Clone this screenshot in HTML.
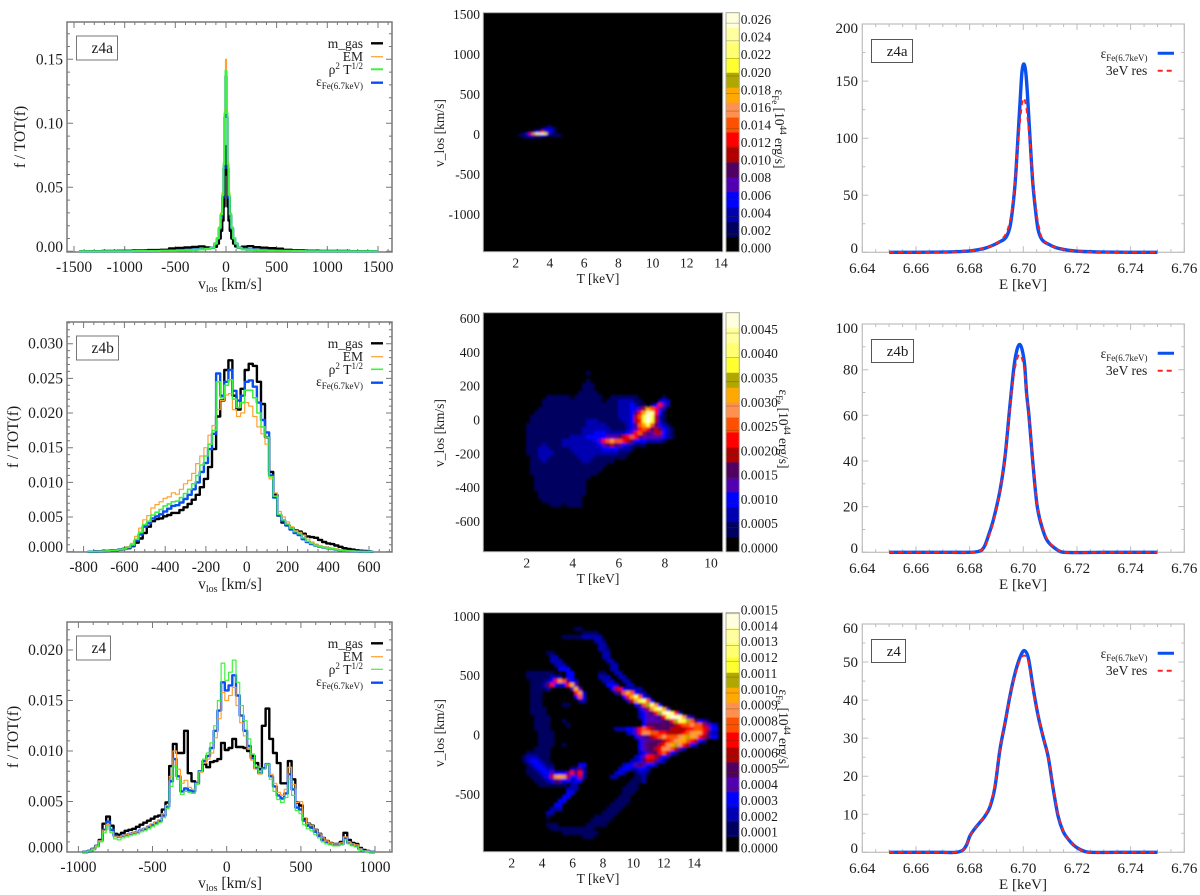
<!DOCTYPE html>
<html>
<head>
<meta charset="utf-8">
<title>Gas velocity distributions, T–v maps and Fe line profiles</title>
<style>
html,body{margin:0;padding:0;background:#fff;width:1200px;height:895px;overflow:hidden}
svg{display:block;font-family:"Liberation Serif","DejaVu Serif",serif;fill:#1c1c1c}
</style>
</head>
<body>
<svg id="figure" xmlns="http://www.w3.org/2000/svg" width="1200" height="895" viewBox="0 0 1200 895">
<defs>
<filter id="soft" filterUnits="userSpaceOnUse" x="480" y="0" width="250" height="895"><feGaussianBlur stdDeviation="1.05"/></filter>
</defs>
</svg>
<script>
// ---------- velocity histograms: z4a ----------
const z4aVel=[-1450,-1300,-1150,-1000,-850,-700,-600,-525,-450,-375,-300,-240,-180,-130,-100,-80,-60,-45,-30,-20,-10,0,10,20,30,45,60,80,100,130,180,240,300,375,450,525,600,700,850,1000,1150,1300,1500];
const z4aMass=[0,.0001,.0002,.0004,.0006,.0009,.0012,.0022,.0026,.003,.0034,.0038,.003,.0028,.0035,.006,.01,.016,.024,.035,.06,.082,.06,.035,.024,.016,.01,.006,.0038,.0028,.0036,.004,.0032,.0028,.0024,.002,.0012,.0008,.0005,.0003,.0002,.0001,0];
const z4aEM=[0,0,.0001,.0001,.0002,.0002,.0004,.0005,.0007,.0009,.0012,.0014,.0018,.0028,.0062,.0105,.019,.03,.046,.07,.11,.15,.11,.07,.046,.03,.019,.0105,.0062,.0028,.0015,.0012,.0009,.0007,.0005,.0004,.0003,.0002,.0001,.0001,0,0,0];
const z4aRho=[0,0,.0001,.0001,.0002,.0002,.0004,.0005,.0007,.0009,.0012,.0014,.0018,.0028,.006,.0102,.0185,.029,.044,.068,.108,.141,.108,.068,.044,.029,.0185,.0102,.006,.0028,.0015,.0012,.0009,.0007,.0005,.0004,.0003,.0002,.0001,.0001,0,0,0];
const z4aFe=[0,0,.0001,.0001,.0002,.0003,.0005,.0007,.0009,.0011,.0014,.0016,.002,.0028,.006,.01,.018,.028,.042,.065,.105,.137,.105,.065,.042,.028,.018,.01,.006,.0028,.0018,.0014,.0011,.0009,.0007,.0005,.0004,.0003,.0002,.0001,.0001,0,0];
const z4aXTicks=[-1500,-1000,-500,0,500,1000,1500];
const z4aYTicks=[0,.05,.10,.15];
const z4aYLabels=['0.00','0.05','0.10','0.15'];
// ---------- velocity histograms: z4b ----------
const z4bVel=[-780,-760,-740,-720,-700,-680,-660,-640,-620,-600,-580,-560,-540,-520,-500,-480,-460,-440,-420,-400,-380,-360,-340,-320,-300,-280,-260,-240,-220,-200,-180,-160,-140,-120,-100,-80,-60,-40,-20,0,20,40,60,80,100,120,140,160,180,200,220,240,260,280,300,320,340,360,380,400,420,440,460,480,500,520,540,560,580,600,620];
const z4bMass=[0,0,.00003,.00005,.0001,.00012,.00018,.00022,.0003,.0004,.0005,.0008,.0013,.0019,.0027,.0036,.0044,.0047,.0048,.0051,.0053,.0056,.0056,.006,.0064,.0069,.0075,.0082,.0093,.0105,.0122,.0148,.0195,.0218,.0262,.0276,.0225,.0205,.0235,.0262,.0271,.0268,.0245,.0213,.0165,.0115,.0082,.0052,.0042,.0038,.0034,.0031,.0029,.0026,.0022,.0021,.002,.0017,.0014,.0012,.0011,.0009,.0007,.0005,.0004,.0003,.0002,.00015,.0001,.00005,0];
const z4bEM=[0,0,.00003,.00005,.0001,.00012,.00018,.00022,.0003,.0004,.0007,.0012,.0022,.0034,.0046,.0052,.0063,.0068,.0072,.0077,.0079,.0085,.0083,.009,.0098,.0103,.0113,.0127,.0138,.015,.0168,.0182,.0205,.0218,.0226,.0228,.0205,.0195,.02,.0215,.021,.0195,.018,.017,.0155,.0105,.0085,.0058,.005,.0043,.0036,.0031,.0028,.0024,.0018,.0014,.0011,.0009,.0007,.0006,.0005,.0004,.0003,.0002,.00015,.0001,.00008,.00005,.00003,.00002,0];
const z4bRho=[0,0,.00003,.00005,.0001,.00012,.00018,.00022,.0003,.0004,.0006,.001,.0018,.0028,.0039,.0044,.0053,.0057,.0061,.0066,.0069,.0072,.0073,.0078,.0084,.009,.0098,.011,.0125,.0138,.0155,.0175,.0245,.0222,.024,.0248,.022,.0208,.0215,.0233,.0233,.0222,.02,.018,.0165,.0108,.008,.0054,.0046,.004,.0034,.0029,.0026,.002,.0015,.0012,.0009,.0007,.0006,.0005,.0004,.0003,.0002,.00015,.0001,.00008,.00005,.00003,.00002,.00001,0];
const z4bFe=[0,0,.00003,.00005,.0001,.00012,.00018,.00022,.0003,.0004,.0006,.0009,.0016,.0025,.0036,.0041,.0048,.0051,.0054,.0058,.0062,.0066,.0067,.0071,.0076,.0082,.009,.01,.0115,.0128,.0148,.017,.0257,.0225,.0245,.0262,.0232,.0218,.0225,.0245,.0247,.0238,.0215,.019,.0172,.011,.0078,.0052,.0044,.0038,.0032,.0027,.0024,.0018,.0014,.0011,.0009,.0007,.0006,.0005,.0004,.0003,.0002,.00015,.0001,.00008,.00005,.00003,.00002,.00001,0];
const z4bXTicks=[-800,-600,-400,-200,0,200,400,600];
const z4bYTicks=[0,.005,.010,.015,.020,.025,.030];
const z4bYLabels=['0.000','0.005','0.010','0.015','0.020','0.025','0.030'];
// ---------- velocity histograms: z4 ----------
const z4Vel=[-975,-950,-925,-900,-875,-850,-825,-800,-775,-750,-725,-700,-675,-650,-625,-600,-575,-550,-525,-500,-475,-450,-425,-400,-375,-350,-325,-300,-275,-250,-225,-200,-175,-150,-125,-100,-75,-50,-25,0,25,50,75,100,125,150,175,200,225,250,275,300,325,350,375,400,425,450,475,500,525,550,575,600,625,650,675,700,725,750,775,800,825,850,875,900,925,950,975,1000];
const z4Mass=[0,0,.0001,.0003,.0006,.0012,.0028,.0035,.0026,.0018,.0017,.0019,.0021,.0022,.0023,.0025,.0027,.0029,.0031,.0033,.0035,.0036,.0042,.0049,.0085,.0107,.0098,.0098,.012,.0078,.007,.0068,.008,.0087,.0084,.0089,.009,.0092,.0108,.0101,.0103,.0112,.0104,.0104,.0103,.01,.0095,.0088,.0082,.0125,.0142,.0112,.0098,.0088,.0068,.0068,.009,.0072,.0049,.0046,.0033,.0028,.0026,.0022,.0018,.0014,.0011,.0009,.0008,.0008,.001,.0019,.0012,.0009,.0008,.0004,.0002,.0001,0,0];
const z4EM=[0,0,.0001,.0003,.0006,.0011,.0021,.0027,.002,.0015,.0015,.0016,.0017,.0018,.0019,.002,.0022,.0024,.0026,.0028,.003,.0032,.0038,.0046,.0075,.01,.0082,.0068,.0071,.0064,.0062,.0068,.0079,.0088,.0092,.0098,.0113,.0132,.0158,.015,.0155,.0163,.0145,.0128,.0115,.0102,.0091,.0082,.0077,.0082,.0087,.0077,.0068,.0059,.0056,.0062,.0084,.0067,.0049,.005,.0034,.0028,.0026,.0022,.0018,.0014,.0011,.0009,.0008,.0008,.0009,.0015,.001,.0008,.0007,.0003,.0001,.0001,0,0];
const z4Rho=[0,0,.0001,.0002,.0005,.001,.0019,.0026,.0019,.0013,.0012,.0014,.0015,.0016,.0017,.0018,.002,.0021,.0023,.0025,.0027,.0029,.0034,.0043,.0065,.0085,.0072,.0057,.006,.0059,.0058,.0067,.008,.0092,.0098,.0108,.0125,.015,.0187,.017,.0178,.019,.0168,.0145,.013,.0112,.0097,.0085,.0078,.0082,.0087,.0072,.006,.0052,.0049,.0054,.0072,.0056,.0041,.0038,.0027,.0023,.0021,.0017,.0014,.001,.0008,.0007,.0006,.0006,.0007,.0012,.0008,.0006,.0005,.0002,.0001,0,0,0];
const z4Fe=[0,0,.0001,.0003,.0006,.0011,.0022,.003,.0022,.0016,.0015,.0016,.0017,.0018,.0019,.002,.0022,.0023,.0025,.0027,.0029,.0031,.0036,.0045,.007,.0092,.0075,.006,.0063,.0061,.006,.0068,.008,.009,.0095,.0103,.012,.014,.0168,.016,.0165,.0175,.0155,.0135,.012,.0105,.0093,.0083,.0078,.0083,.0087,.0075,.0065,.0056,.0053,.0058,.0077,.0062,.0044,.0042,.0031,.0026,.0024,.002,.0016,.0012,.001,.0008,.0007,.0007,.0008,.0014,.0009,.0007,.0006,.0003,.0001,.0001,0,0];
const z4XTicks=[-1000,-500,0,500,1000];
const z4YTicks=[0,.005,.010,.015,.020];
const z4YLabels=['0.000','0.005','0.010','0.015','0.020'];

// ---------- heatmaps: one hex digit per cell = colour-bar band index, '.' = lowest band ----------
const heatLevels=['#000000','#000060','#0000b0','#0000ff','#5000b0','#500060','#b00000','#ff0000','#ff5000','#ff9050','#ffa800','#b0a800','#ffff30','#ffff70','#ffffa0','#ffffe0'];
const heatZ4aRows=[
"...........1",
".........11221",
".......1123321",
"....1123575321",
"..1247afffc4211",
".111235553211111",
"...111111"];
const heatZ4bRows=["","","","","","","","","","","","","","","",
"..........................1",
"",
"..........................1",
".........................111",
".........................111",
"........................11111",
"................111111.1111111..1111111......1",
"...............111111111111111.111222211....232",
"...............11111111111111111112223211.13742",
"..............111111111111111111112223346a8742",
".............1111111111111111111112223 57aee731".replace(' ',''),
"............1111111111111111111111222368cfd621",
"............1111111111111122211111122367cfc621",
"...........1111111111111112222211111235 8ac85321".replace(' ',''),
"...........111111111111112222222111123 4787565321".replace(' ',''),
"...........11111111111111222333222223 47865466321".replace(' ',''),
"...........1111111111122223333344456787544444321",
"...........11111111122222222347898876533322221",
"...........11112111122222222234565432 2111".replace(' ',''),
"...........1112221111122222222333322 21".replace(' ',''),
"...........11122221111122222222222111",
"............112221111111222211111111",
"............111211111111122111111",
"............1111111111111111111",
"............111111111111111111",
"............11111111111111111",
".............11111111111111",
".............1111111111111",
".............1111111111111",
".............1111111111111",
"..............111111111111",
"..............11111111111",
"...............1111111111",
".................111.1111"];
const heatZ4Rows=["","","","",
".......................11",
".........................1111",
"....................1111122222",
"............................221",
".............................22",
".............................221",
"................11............22",
".................22...........22",
".................222...........22",
"..................222...........22",
"...................333..........22",
"...........1111111...33......11..22",
"...........111111222.33......222..22",
"............111123798532......222..22",
"............1112573237a4.......333..22",
"............11112.....4a4.......36732222",
"............111........792.......258a8322",
"............111........383.........37ac832",
"............111.........22..........269cd83",
"............111.....11................358bd93",
"............1111.......................3469cea4",
"............1111.......................23457befd72",
".............1111......................2344457cffe942",
".............1111...1...................34444557bdcb85321",
".............1111....1..................3555555567889886432",
".............1111................22233478765555666677887633",
"..............1111..................23479988776666789a97522",
"..............1111....................344567898889aba976533",
"..............1111.....................3445556789aa87632",
"..............1111..1..................34555679ab97632",
".............1111......................345567998642",
"...........111111......................2345578632",
"..........1222111.....................234776532",
"..........1233211....................223566532",
"...........1233211......33.........233454332",
"...........1123322....2252........23322332",
"...........111233433347572.......232..1221",
"............1112369a963362......22....112",
".............111235433233............1112",
"..............1111111.22............111",
".....................222...........1111",
".....................33............111",
"....................33............111",
"...................33............1111",
"..................33............1111",
".................222...........1111",
"................22............1111",
"................1...........11111",
"...........................11111",
"................111.......11111",
".................11111111111",
"....................111111111",
".........................111"];
const cbZ4aTicks=[0,.002,.004,.006,.008,.010,.012,.014,.016,.018,.020,.022,.024,.026];
const cbZ4aLabels=['0.000','0.002','0.004','0.006','0.008','0.010','0.012','0.014','0.016','0.018','0.020','0.022','0.024','0.026'];
const cbZ4bTicks=[0,.0005,.0010,.0015,.0020,.0025,.0030,.0035,.0040,.0045];
const cbZ4bLabels=['0.0000','0.0005','0.0010','0.0015','0.0020','0.0025','0.0030','0.0035','0.0040','0.0045'];
const cbZ4Ticks=[0,.0001,.0002,.0003,.0004,.0005,.0006,.0007,.0008,.0009,.0010,.0011,.0012,.0013,.0014,.0015];
const cbZ4Labels=['0.0000','0.0001','0.0002','0.0003','0.0004','0.0005','0.0006','0.0007','0.0008','0.0009','0.0010','0.0011','0.0012','0.0013','0.0014','0.0015'];
const mapZ4aT=[2,4,6,8,10,12,14];
const mapZ4aV=[-1000,-500,0,500,1000,1500];
const mapZ4bT=[2,4,6,8,10];
const mapZ4bV=[-600,-400,-200,0,200,400,600];
const mapZ4T=[2,4,6,8,10,12,14];
const mapZ4V=[-500,0,500,1000];

// ---------- Fe line profiles ----------
const lineEz4a=[6.65,6.66,6.67,6.675,6.68,6.683,6.686,6.689,6.691,6.6935,6.695,6.696,6.697,6.698,6.699,6.6995,6.7002,6.7009,6.7015,6.7025,6.7035,6.7045,6.7055,6.707,6.7095,6.712,6.715,6.718,6.722,6.73,6.74,6.75];
const lineFeZ4a=[0,0,.2,.5,1.2,2.2,3.8,6.5,9,13,22,38,62,100,140,158,165,158,140,100,62,38,20,11,7,4.2,2.5,1.5,.7,.2,0,0];
const lineResZ4a=[0,0,.2,.5,1.2,2.2,3.8,6.5,9.5,16,27,42,64,95,120,130,135,130,120,95,64,42,26,12,7,4.2,2.5,1.5,.7,.2,0,0];
const lineEz4b=[6.65,6.67,6.68,6.683,6.6845,6.6857,6.6872,6.6888,6.6913,6.6932,6.695,6.6965,6.6975,6.6985,6.6995,6.7005,6.7012,6.7021,6.7035,6.7052,6.7075,6.7093,6.713,6.715,6.73,6.75];
const lineFeZ4b=[0,0,0,.3,1,3,8,14,27,42,64,81,88,91,89,82,70,60,40,20,9,4.5,.8,0,0,0];
const lineResZ4b=[0,0,0,.3,1,2.5,7,13,27,42,63,78,84,86.5,85,79,69,60,40,20.5,10,5,1,0,0,0];
const lineEz4=[6.65,6.67,6.675,6.6775,6.6789,6.6801,6.682,6.684,6.6857,6.6876,6.6894,6.6913,6.6932,6.695,6.6969,6.6988,6.7004,6.7019,6.7037,6.7056,6.7075,6.7093,6.7112,6.713,6.7149,6.7168,6.7186,6.7205,6.723,6.725,6.74,6.75];
const lineFeZ4=[0,0,0,.6,2,4.3,6.3,8,9.5,12,17,27,34,41,47,51.3,53,51,43,35.6,30,25,16.4,9.4,5.4,3.4,2,1,.2,0,0,0];
const lineResZ4=[0,0,0,.6,2,4.3,6.3,8,9.7,12.5,17.5,27,34,41,46.5,50.5,51.7,50,42.5,35.6,30,25,16.8,9.8,5.6,3.4,2,1,.2,0,0,0];
const lineXTicks=[6.64,6.66,6.68,6.70,6.72,6.74,6.76];
const lineYTicksZ4a=[0,50,100,150,200];
const lineYTicksZ4b=[0,20,40,60,80,100];
const lineYTicksZ4=[0,10,20,30,40,50,60];

// ---------- helpers ----------
const NS='http://www.w3.org/2000/svg';
const root=document.getElementById('figure');
function linear(v0,p0,v1,p1){const k=(p1-p0)/(v1-v0);const f=v=>p0+(v-v0)*k;f.inv=p=>v0+(p-p0)/k;return f;}
function group(parent,name){
  const g=document.createElementNS(NS,'g');
  
  
  parent.appendChild(g);
  return g;
}
function addPath(parent,d,stroke,width,name,dash){
  const p=document.createElementNS(NS,'path');
  p.setAttribute('d',d);
  p.setAttribute('fill','none');
  p.setAttribute('stroke',stroke);
  p.setAttribute('stroke-width',width);
  p.setAttribute('stroke-linejoin','round');
  if(dash)p.setAttribute('stroke-dasharray',dash);
  
  
  parent.appendChild(p);
  return p;
}
function addRect(parent,x,y,w,h,fill,stroke,sw,name){
  const r=document.createElementNS(NS,'rect');
  r.setAttribute('x',x);r.setAttribute('y',y);
  r.setAttribute('width',w);r.setAttribute('height',h);
  r.setAttribute('fill',fill);
  if(stroke){r.setAttribute('stroke',stroke);r.setAttribute('stroke-width',sw);}
  
  
  parent.appendChild(r);
  return r;
}
function addText(parent,parts,x,y,size,anchor,name,rot){
  const t=document.createElementNS(NS,'text');
  t.setAttribute('x',x);t.setAttribute('y',y);
  t.setAttribute('font-size',size);
  t.setAttribute('text-anchor',anchor);
  if(rot)t.setAttribute('transform','rotate('+rot+' '+x+' '+y+')');
  
  
  if(typeof parts==='string'){t.textContent=parts;}
  else{parts.forEach(p=>{
    const s=document.createElementNS(NS,'tspan');
    s.textContent=p.t;
    if(p.size)s.setAttribute('font-size',p.size);
    if(p.dy)s.setAttribute('dy',p.dy);
    t.appendChild(s);
  });}
  parent.appendChild(t);
  return t;
}
function stepPath(xs,ys,sx,sy){
  let d='';
  for(let i=0;i<xs.length;i++){
    const l=i===0?xs[0]:(xs[i-1]+xs[i])/2;
    const r=i===xs.length-1?xs[i]:(xs[i]+xs[i+1])/2;
    d+=(i===0?'M':'L')+sx(l).toFixed(1)+' '+sy(ys[i]).toFixed(1)+'L'+sx(r).toFixed(1)+' '+sy(ys[i]).toFixed(1);
  }
  return d;
}
function smoothPath(xs,ys,sx,sy){
  const P=xs.map((v,i)=>[sx(v),sy(ys[i])]);
  const tan=i=>{
    if(i===0||i===P.length-1)return [0,0];
    const d=P[i+1][0]-P[i-1][0];
    return [(P[i+1][0]-P[i-1][0])/d,(P[i+1][1]-P[i-1][1])/d];
  };
  let d='M'+P[0][0].toFixed(2)+' '+P[0][1].toFixed(2);
  for(let i=0;i<P.length-1;i++){
    const h=(P[i+1][0]-P[i][0])/3,a=tan(i),b=tan(i+1);
    d+='C'+(P[i][0]+h).toFixed(2)+' '+(P[i][1]+a[1]*h).toFixed(2)+' '+(P[i+1][0]-h).toFixed(2)+' '+(P[i+1][1]-b[1]*h).toFixed(2)+' '+P[i+1][0].toFixed(2)+' '+P[i+1][1].toFixed(2);
  }
  return d;
}
function tickPath(box,sx,sy,xMajor,xStep,yMajor,yStep,maj,mnr){
  const [x0,y0,x1,y1]=box;let d='';
  const near=(v,arr,s)=>arr.some(a=>Math.abs(a-v)<s*.01);
  const xa=sx.inv(x0),xb=sx.inv(x1),ya=sy.inv(y1),yb=sy.inv(y0);
  for(let n=Math.ceil(xa/xStep);n*xStep<=xb;n++){
    const v=n*xStep,L=near(v,xMajor,xStep)?maj:mnr,p=sx(v).toFixed(1);
    d+='M'+p+' '+y1+'V'+(y1-L)+'M'+p+' '+y0+'V'+(y0+L);
  }
  for(let n=Math.ceil(ya/yStep);n*yStep<=yb+yStep*.01;n++){
    const v=n*yStep,L=near(v,yMajor,yStep)?maj:mnr,p=sy(v).toFixed(1);
    d+='M'+x0+' '+p+'H'+(x0+L)+'M'+x1+' '+p+'H'+(x1-L);
  }
  return d;
}
const rhoLegend=[{t:'ρ'},{t:'2',size:9,dy:-5},{t:' T',dy:5},{t:'1/2',size:9,dy:-5}];
const epsLegend=[{t:'ε'},{t:'Fe(6.7keV)',size:9,dy:3}];

// ---------- left column ----------
function velocityPanel(c){
  const g=group(root,'velocity-panel-'+c.id);
  const o=c.off,box=[67,22+o,392,252+o];
  addRect(g,67,22+o,325,230,'#fff','#787878',1.5,'plot-frame');
  addPath(g,tickPath(box,c.sx,c.sy,c.xt,c.xStep,c.yt,c.yStep,6,3),'#787878',1,'tick-marks');
  addPath(g,stepPath(c.vel,c.mass,c.sx,c.sy),'#000',2.4,'series-m-gas');
  addPath(g,stepPath(c.vel,c.fe,c.sx,c.sy),'#0a50f0',2.4,'series-fe-emissivity');
  addPath(g,stepPath(c.vel,c.em,c.sx,c.sy),'#ffa030',1.2,'series-em');
  addPath(g,stepPath(c.vel,c.rho,c.sx,c.sy),'#40f040',c.rhoW,'series-rho2-t12');
  c.xt.forEach(v=>{
    addText(g,String(v),c.sx(v),272+o,15.5,'middle','x-tick-label');
  });
  c.yt.forEach((v,i)=>{
    addText(g,c.yl[i],63,c.sy(v)+5-(i===0?4.5:0),15.5,'end','y-tick-label');
  });
  addText(g,[{t:'v'},{t:'los',size:10,dy:3},{t:' [km/s]',dy:-3}],230,c.titleY,15.5,'middle','x-axis-title');
  addText(g,'f / TOT(f)',c.yTitleX,137+o,15.5,'middle','y-axis-title',-90);
  addRect(g,76.5,36+o,c.boxW,24,'#fff','#777',1,'panel-tag-box');
  addText(g,c.id,91.5,53+o,15.5,'start','panel-tag');
  const leg=[['m_gas','#000',2.4,48,43.3],['EM','#ffa030',1.2,61,56.7],[rhoLegend,'#40f040',c.rhoW,74,69.3],[epsLegend,'#0a50f0',2.4,86,82.7]];
  leg.forEach(l=>{
    addText(g,l[0],363,l[3]+o,13.5,'end','legend-label');
    addPath(g,'M371 '+(l[4]+o)+'H383',l[1],l[2],'legend-swatch');
  });
}
velocityPanel({id:'z4a',off:0,vel:z4aVel,mass:z4aMass,em:z4aEM,rho:z4aRho,fe:z4aFe,xt:z4aXTicks,yt:z4aYTicks,yl:z4aYLabels,xStep:100,yStep:.01,rhoW:2,
  sx:linear(0,226,1000,327.3),sy:linear(0,251.3,.15,59.3),titleY:289,yTitleX:25,boxW:41});
velocityPanel({id:'z4b',off:300,vel:z4bVel,mass:z4bMass,em:z4bEM,rho:z4bRho,fe:z4bFe,xt:z4bXTicks,yt:z4bYTicks,yl:z4bYLabels,xStep:50,yStep:.001,rhoW:1.6,
  sx:linear(0,246.7,600,369),sy:linear(0,551.7,.03,343.7),titleY:589,yTitleX:18,boxW:42});
velocityPanel({id:'z4',off:600,vel:z4Vel,mass:z4Mass,em:z4EM,rho:z4Rho,fe:z4Fe,xt:z4XTicks,yt:z4YTicks,yl:z4YLabels,xStep:100,yStep:.001,rhoW:1.2,
  sx:linear(0,226.7,1000,375),sy:linear(0,852,.02,650),titleY:888,yTitleX:18,boxW:34});

// ---------- middle column ----------
function mapPanel(c){
  const g=group(root,'temperature-velocity-map-'+c.id);
  const o=c.off,top=12.7+o,bot=251.7+o;
  addRect(g,483.3,top,239.4,239,'#000','#a8a8a8',1,'heatmap-background');
  const cid='clip-'+c.id;
  const cp=document.createElementNS(NS,'clipPath');
  cp.setAttribute('id',cid);
  
  
  const cr=document.createElementNS(NS,'rect');
  cr.setAttribute('x',484);cr.setAttribute('y',top+.5);cr.setAttribute('width',238);cr.setAttribute('height',238);
  
  
  cp.appendChild(cr);g.appendChild(cp);
  const clip=group(g,'heatmap-clip-group');
  clip.setAttribute('clip-path','url(#'+cid+')');
  const cells=group(clip,'heatmap-cells');
  cells.setAttribute('filter','url(#soft)');
  c.rows.forEach((row,r)=>{
    for(let k=0;k<row.length;k++){
      if(row[k]==='.')continue;
      const level=parseInt(row[k],16);
      const T=c.t0+k*c.dt,V=c.v0-r*c.dv;
      addRect(cells,c.sx(T),c.sy(V),c.sx(T+c.dt)-c.sx(T)+.4,c.sy(V-c.dv)-c.sy(V)+.4,heatLevels[level],null,0,'heatmap-cell');
    }
  });
  // colour bar
  const cb=group(g,'colorbar');
  const bh=(bot-top)/16;
  heatLevels.forEach((col,i)=>{
    addRect(cb,726,bot-(i+1)*bh,13.3,bh+.3,col,null,0,'colorbar-band');
  });
  addRect(cb,726,top,13.3,239,'none','#a8a898',1,'colorbar-frame');
  const cy=linear(0,bot,c.cbMax,top);
  c.cbTicks.forEach((v,i)=>{
    addPath(cb,'M726 '+cy(v).toFixed(1)+'H739.3','rgba(60,60,0,.35)',.8,'colorbar-tick');
    addText(cb,c.cbLabels[i],740.8,cy(v)-3.7+4.5,13.5,'start','colorbar-tick-label');
  });
  addText(cb,[{t:'ε'},{t:'Fe',size:9,dy:3},{t:' [10',dy:-3},{t:'44',size:9,dy:-5},{t:' erg/s]',dy:5}],c.cbTitleX,129+o,13.5,'middle','colorbar-title',90);
  c.xt.forEach(v=>{
    addText(g,String(v),c.sx(v),267.5+o,13.5,'middle','x-tick-label');
  });
  c.yt.forEach(v=>{
    addText(g,String(v),480,c.sy(v)+1+4.2,13.5,'end','y-tick-label');
  });
  addText(g,'T [keV]',598,283+o,13.5,'middle','x-axis-title');
  addText(g,'v_los [km/s]',444,133+o,13.5,'middle','y-axis-title',-90);
}
mapPanel({id:'z4a',off:0,rows:heatZ4aRows,t0:1.91,dt:.1754,v0:116,dv:25,sx:linear(2,515.7,14,721),sy:linear(0,134,1000,54),
  cbMax:.0272,cbTicks:cbZ4aTicks,cbLabels:cbZ4aLabels,xt:mapZ4aT,yt:mapZ4aV,cbTitleX:775});
mapPanel({id:'z4b',off:300,rows:heatZ4bRows,t0:.06,dt:.1736,v0:641,dv:23.67,sx:linear(2,526.7,10,711),sy:linear(0,419.3,200,385.5),
  cbMax:.00492,cbTicks:cbZ4bTicks,cbLabels:cbZ4bLabels,xt:mapZ4bT,yt:mapZ4bV,cbTitleX:779});
mapPanel({id:'z4',off:600,rows:heatZ4Rows,t0:.05,dt:.2628,v0:1040,dv:33.7,sx:linear(2,511.7,14,694.3),sy:linear(0,734.3,500,675),
  cbMax:.001506,cbTicks:cbZ4Ticks,cbLabels:cbZ4Labels,xt:mapZ4T,yt:mapZ4V,cbTitleX:779});

// ---------- right column ----------
function linePanel(c){
  const g=group(root,'line-profile-panel-'+c.id);
  const o=c.off,box=[862.3,24+o,1184.3,252.3+o];
  const sx=linear(6.64,862.3,6.76,1184.3),sy=linear(0,252.3+o,c.yMax,24+o);
  addRect(g,862.3,24+o,322,228.3,'#fff','#bdbdbd',1.2,'plot-frame');
  addPath(g,tickPath(box,sx,sy,lineXTicks,.005,c.yt,c.yStep,6,3),'#bdbdbd',1,'tick-marks');
  addPath(g,smoothPath(c.e,c.fe,sx,sy),'#0a50f0',3.4,'series-fe-emissivity');
  addPath(g,smoothPath(c.e,c.res,sx,sy),'#ff2020',2,'series-3ev-resolution','5 4');
  lineXTicks.forEach(v=>{
    addText(g,v.toFixed(2),sx(v),273+o,15,'middle','x-tick-label');
  });
  c.yt.forEach((v,i)=>{
    const adj=i===0?-4.5:(i===c.yt.length-1?4:0);
    addText(g,String(v),858,sy(v)+5+adj,15,'end','y-tick-label');
  });
  addText(g,'E [keV]',1023,c.titleY,15,'middle','x-axis-title');
  addRect(g,871.5,39.5+o,c.boxW,23,'#fff','#555',1,'panel-tag-box');
  addText(g,c.id,886.7,56+o,15,'start','panel-tag');
  addText(g,epsLegend,1147.5,58+o,13.5,'end','legend-label');
  addPath(g,'M1157.7 '+(53.3+o)+'H1174','#0a50f0',3,'legend-swatch');
  addText(g,'3eV res',1147.3,75+o,13.5,'end','legend-label');
  addPath(g,'M1157.7 '+(70.7+o)+'H1173','#ff2020',2,'legend-swatch','5 4');
}
linePanel({id:'z4a',off:0,e:lineEz4a,fe:lineFeZ4a,res:lineResZ4a,yMax:200,yt:lineYTicksZ4a,yStep:25,titleY:289,boxW:41});
linePanel({id:'z4b',off:300,e:lineEz4b,fe:lineFeZ4b,res:lineResZ4b,yMax:100,yt:lineYTicksZ4b,yStep:10,titleY:589,boxW:42});
linePanel({id:'z4',off:600,e:lineEz4,fe:lineFeZ4,res:lineResZ4,yMax:60,yt:lineYTicksZ4,yStep:5,titleY:889,boxW:34});
</script>
</body>
</html>
